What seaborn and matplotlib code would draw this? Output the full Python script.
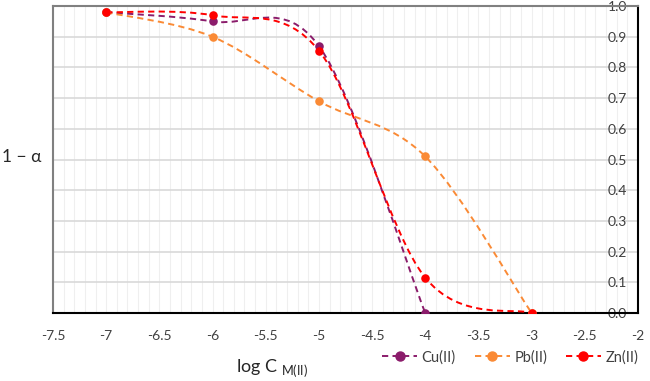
import numpy as np
import pandas as pd
import matplotlib
matplotlib.use("Agg")
import matplotlib.pyplot as plt
from matplotlib.path import Path
from matplotlib.patches import PathPatch
from matplotlib.lines import Line2D
from matplotlib.ticker import MultipleLocator, FuncFormatter
import seaborn as sns

# data
log_c = [-7, -6, -5, -4, -3]
cu = [0.98, 0.95, 0.87, 0.0]
pb = [0.98, 0.90, 0.69, 0.51, 0.0]
zn = [0.98, 0.97, 0.855, 0.115, 0.0]
series_names = ["Cu(II)", "Pb(II)", "Zn(II)"]
series_colors = ["#8B1C6B", "#FA8A35", "#FF0000"]

rows = []
for name, vals in zip(series_names, [cu, pb, zn]):
    for x, y in zip(log_c, vals):
        rows.append({"logC": x, "frac": y, "metal": name})
df = pd.DataFrame(rows)

sns.set_style("white")
plt.rcParams["font.family"] = ["Lato", "DejaVu Sans"]
plt.rcParams["mathtext.fontset"] = "custom"
plt.rcParams["mathtext.rm"] = "Lato"


def smooth_path(xs, ys):
    # Excel-like smoothed line: Catmull-Rom converted to cubic bezier segments
    pts = np.column_stack([xs, ys]).astype(float)
    n = len(pts)
    verts = [pts[0]]
    codes = [Path.MOVETO]
    for i in range(n - 1):
        p0 = pts[max(i - 1, 0)]
        p1 = pts[i]
        p2 = pts[i + 1]
        p3 = pts[min(i + 2, n - 1)]
        c1 = p1 + (p2 - p0) / 6
        c2 = p2 - (p3 - p1) / 6
        verts += [c1, c2, p2]
        codes += [Path.CURVE4] * 3
    return Path(verts, codes)


fig = plt.figure(figsize=(6.5, 3.81), dpi=100)
ax = fig.add_axes([0.0815, 0.1785, 0.9, 0.8055])

for name, color in zip(series_names, series_colors):
    sub = df[df["metal"] == name]
    patch = PathPatch(smooth_path(sub["logC"], sub["frac"]), fill=False,
                      edgecolor=color, lw=1.4, linestyle=(0, (3.2, 2.2)), zorder=3)
    ax.add_patch(patch)
    sns.scatterplot(data=sub, x="logC", y="frac", color=color, s=38,
                    edgecolor=color, linewidth=0, ax=ax, zorder=4, legend=False)

ax.set_xlim(-7.5, -2)
ax.set_ylim(0, 1.0)
ax.xaxis.set_major_locator(MultipleLocator(0.5))
ax.xaxis.set_minor_locator(MultipleLocator(0.1))
ax.yaxis.set_major_locator(MultipleLocator(0.1))
ax.xaxis.set_major_formatter(FuncFormatter(lambda v, p: f"{v:g}"))
ax.yaxis.set_major_formatter(FuncFormatter(lambda v, p: f"{abs(v):.1f}"))

ax.grid(axis="x", which="both", color="#efefef", lw=0.8)
ax.grid(axis="y", which="major", color="#d9d9d9", lw=1.2)
ax.set_axisbelow(True)

ax.yaxis.tick_right()
ax.tick_params(axis="y", length=0, pad=-8, labelsize=10, labelcolor="#404040")
for lab in ax.get_yticklabels():
    lab.set_horizontalalignment("right")
ax.tick_params(axis="x", which="both", length=0, pad=12, labelsize=10, labelcolor="#404040")

for side in ["top", "left"]:
    ax.spines[side].set_color("#808080")
    ax.spines[side].set_linewidth(1.5)
for side in ["bottom", "right"]:
    ax.spines[side].set_color("black")
    ax.spines[side].set_linewidth(1.5)

ax.set_xlabel(r"log C $_{\mathregular{M(II)}}$", fontsize=13, color="#262626")
ax.xaxis.set_label_coords(0.374, -0.145)
ax.yaxis.set_label_position("left")
ax.set_ylabel("1 − α", rotation=0, fontsize=12.5, color="#262626",
              ha="center", va="center")
ax.yaxis.set_label_coords(-0.054, 0.508)

handles = [Line2D([0], [0], color=c, lw=1.4, linestyle=(0, (3.2, 2.2)),
                  marker="o", markersize=6.5) for c in series_colors]
fig.legend(handles, series_names, loc="center", bbox_to_anchor=(0.785, 0.062),
           ncol=3, frameon=False, fontsize=10.5, handlelength=2.4,
           columnspacing=1.3, handletextpad=0.3, labelcolor="#404040")

fig.savefig("out.png", dpi=100)
